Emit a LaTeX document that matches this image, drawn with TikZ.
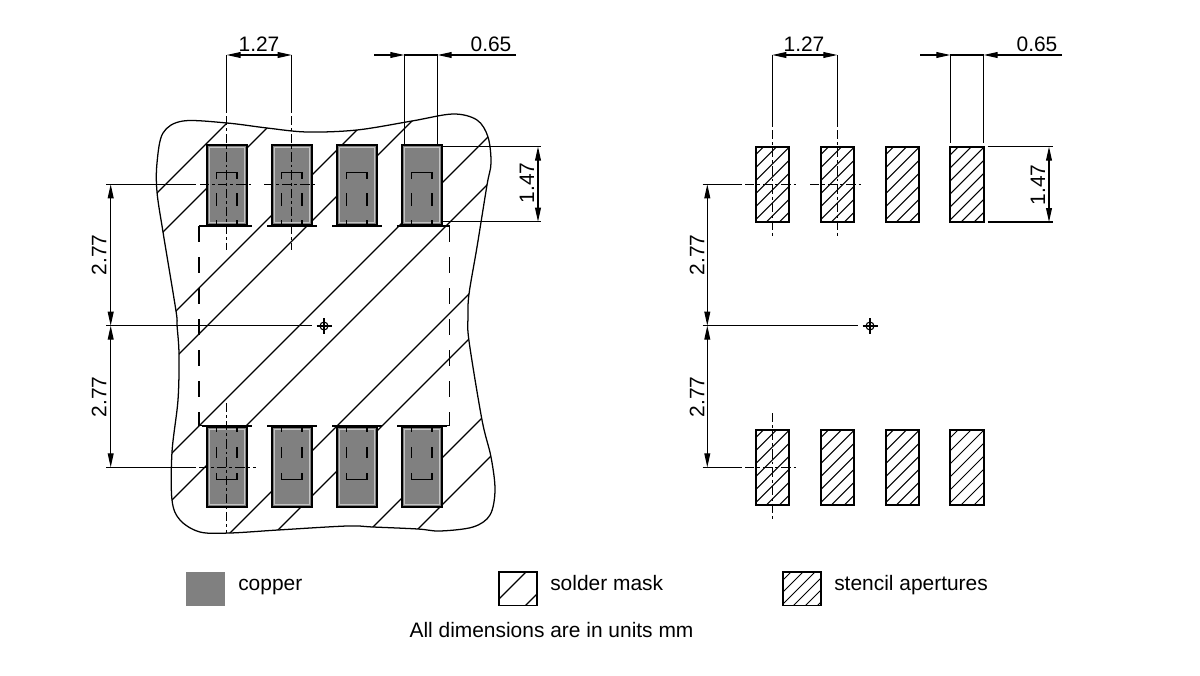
\documentclass[tikz,border=0pt]{standalone}
\usepackage{fontspec}
\setmainfont{Liberation Sans}
\usetikzlibrary{arrows.meta}
\definecolor{padgray}{HTML}{808080}
\definecolor{padedge}{HTML}{C4C4C4}
\tikzset {
  thin line/.style = {
    draw = black,
    line width = 0.8pt
  },
  % dimension line with long narrow tips
  dim arrow/.style = {
    thin line,
    -{Stealth[length = 10.5pt, width = 4.4pt, inset = 0pt]}
  },
  dim both/.style = {
    thin line,
    {Stealth[length = 10.5pt, width = 4.4pt, inset = 0pt]}-{Stealth[length = 10.5pt, width = 4.4pt, inset = 0pt]}
  },
  dim text/.style = {
    font = \fontsize{15.7}{18}\selectfont,
    inner sep = 0
  },
  % centre line of a pad
  centre line/.style = {
    thin line,
    dash pattern = on 7pt off 2.2pt on 2.2pt off 2.2pt
  },
  hatch line/.style = {
    draw = black,
    line width = 0.85pt
  },
  copper pad/.style = {
    fill = padgray,
    draw = black,
    line width = 1.5pt
  },
  stencil pad/.style = {
    draw = black,
    line width = 1.6pt
  },
  pad mark/.style = {
    draw = black,
    line width = 1.05pt
  }
}
\begin{document}
\begin{tikzpicture}[x = 0.75pt, y = -0.75pt]
  \useasboundingbox (0,0) rectangle (1200,675);

  % solder mask outline and its hatching
  \begin{scope}
    \clip plot[smooth cycle, tension = 0.55] coordinates {
      (157,163) (163,133) (183,121) (227,123) (267,128) (307,132) (357,130)
      (412,121) (453,114) (477,120) (488,137) (491,163) (487,185) (477,247)
      (469,294) (468,317) (469,341) (482,420) (491,457) (495,490) (490,515)
      (473,527) (440,531) (418,529) (373,527) (347,526) (278,530) (230,533)
      (200,532) (180,520) (172,500) (172,452) (178,400) (179,354) (177,325)
      (176,311) (163,232) (157,192)};
    \foreach \c in {350,395,487,533,625,672,763,808,900,947}
      \draw[hatch line] (\c-100,100) -- (\c-600,600);
  \end{scope}
  \draw[thin line, line width = 0.95pt] plot[smooth cycle, tension = 0.55] coordinates {
    (157,163) (163,133) (183,121) (227,123) (267,128) (307,132) (357,130)
    (412,121) (453,114) (477,120) (488,137) (491,163) (487,185) (477,247)
    (469,294) (468,317) (469,341) (482,420) (491,457) (495,490) (490,515)
    (473,527) (440,531) (418,529) (373,527) (347,526) (278,530) (230,533)
    (200,532) (180,520) (172,500) (172,452) (178,400) (179,354) (177,325)
    (176,311) (163,232) (157,192)};

  % package outline under the pads
  \draw[thin line, dash pattern = on 12pt off 11.25pt] (199,226) -- (199,425.7);
  \draw[thin line, dash pattern = on 12pt off 11.25pt] (449.7,226) -- (449.7,425.7);
  \draw[thin line] (199,226) -- (207,226);
  \draw[thin line] (441,226) -- (449.7,226);
  \draw[thin line] (199,425.7) -- (207,425.7);
  \draw[thin line] (441,425.7) -- (449.7,425.7);

  % copper pads, top and bottom row
  \foreach \px in {207,272,337,402} {
    \draw[copper pad] (\px,145) rectangle (\px+39.5,225);
    \draw[padedge, line width = 0.8pt] (\px+2.2,147.2) rectangle (\px+37.3,222.8);
    \draw[pad mark] (\px+9.5,179) -- (\px+9.5,172.7) -- (\px+30,172.7) -- (\px+30,179);
    \draw[pad mark] (\px+9.5,193) -- (\px+9.5,206);
    \draw[pad mark] (\px+30,193) -- (\px+30,206);
    \draw[pad mark] (\px+9.5,220) -- (\px+9.5,225);
    \draw[pad mark] (\px+30,220) -- (\px+30,225);
    \draw[thin line] (\px-5,226) -- (\px+45,226);
    \draw[line width = 1.6pt] (\px,225.5) -- (\px+10,225.5);
    \draw[line width = 1.6pt] (\px+30,225.5) -- (\px+40,225.5);

    \draw[copper pad] (\px,427) rectangle (\px+39.5,507);
    \draw[padedge, line width = 0.8pt] (\px+2.2,429.2) rectangle (\px+37.3,504.8);
    \draw[pad mark] (\px+9.5,473) -- (\px+9.5,479.3) -- (\px+30,479.3) -- (\px+30,473);
    \draw[pad mark] (\px+9.5,447) -- (\px+9.5,458);
    \draw[pad mark] (\px+30,447) -- (\px+30,458);
    \draw[pad mark] (\px+9.5,427) -- (\px+9.5,432);
    \draw[pad mark] (\px+30,427) -- (\px+30,432);
    \draw[thin line] (\px-5,426) -- (\px+45,426);
    \draw[line width = 1.6pt] (\px,426.5) -- (\px+10,426.5);
    \draw[line width = 1.6pt] (\px+30,426.5) -- (\px+40,426.5);
  }

  % stencil pads with their hatching
  \foreach \px in {755.7,820.7,885.7,950.4} {
    \foreach \py in {146.7,429.6} {
      \begin{scope}
        \clip (\px,\py) rectangle (\px+33.6,\py+75.6);
        \foreach \c in {8,21,...,108}
          \draw[hatch line, line width = 0.75pt] (\px+\c+10,\py-10) -- (\px+\c-90,\py+90);
      \end{scope}
      \draw[stencil pad] (\px,\py) rectangle (\px+33.6,\py+75.6);
    }
  }

  % centre lines, left view
  \draw[thin line] (226.7,55) -- (226.7,113);
  \draw[centre line] (226.7,116) -- (226.7,250);
  \draw[centre line] (226.7,403) -- (226.7,533);
  \draw[thin line] (291.7,55) -- (291.7,113);
  \draw[centre line] (291.7,116) -- (291.7,250);
  \draw[thin line] (106,184.3) -- (196,184.3);
  \draw[centre line] (200,184.3) -- (253,184.3);
  \draw[centre line] (264,184.3) -- (318,184.3);
  \draw[thin line] (106,467.3) -- (196,467.3);
  \draw[centre line] (199,467.3) -- (256,467.3);

  % centre lines, right view
  \draw[thin line] (772.3,55) -- (772.3,127);
  \draw[centre line] (772.3,130) -- (772.3,237);
  \draw[centre line] (772.3,413) -- (772.3,520);
  \draw[thin line] (837.3,55) -- (837.3,127);
  \draw[centre line] (837.3,130) -- (837.3,237);
  \draw[thin line] (702.7,184.3) -- (741.7,184.3);
  \draw[centre line] (745,184.3) -- (798,184.3);
  \draw[centre line] (810,184.3) -- (864,184.3);
  \draw[thin line] (702.7,467.3) -- (741.7,467.3);
  \draw[centre line] (745,467.3) -- (799,467.3);

  % pad width lines
  \draw[thin line] (404.3,55) -- (404.3,145);
  \draw[thin line] (437.7,55) -- (437.7,145);
  \draw[thin line] (950.3,55) -- (950.3,143);
  \draw[thin line] (983.7,55) -- (983.7,143);

  % height lines
  \draw[thin line] (441,146.7) -- (541,146.7);
  \draw[thin line] (443,221.7) -- (541,221.7);
  \draw[thin line] (987.7,146.7) -- (1053,146.7);
  \draw[thin line] (987.7,222) -- (1053,222);

  % origin lines and marks
  \foreach \ox/\ex/\cx in {106/312/324,702.7/858/870} {
    \draw[line width = 1.15pt] (\ox,325.7) -- (\ex,325.7);
    \draw[thin line] (\cx,326) circle (4);
    \draw[thin line] (\cx-7.5,326) -- (\cx+7.5,326);
    \draw[thin line] (\cx,318) -- (\cx,334);
  }

  % dimension arrows, left view
  \coordinate (pitchl) at (226.7,55);
  \coordinate (pitchr) at (291.7,55);
  \coordinate (widthl) at (404.3,55);
  \coordinate (widthr) at (437.7,55);
  \coordinate (heightt) at (538,146.7);
  \coordinate (heightb) at (538,221.7);
  \coordinate (gapt) at (110.7,184.3);
  \coordinate (gapm) at (110.7,325.7);
  \coordinate (gapb) at (110.7,467.3);
  \draw[dim both] (pitchl) -- (pitchr);
  \draw[thin line] (widthl) -- (widthr);
  \draw[dim arrow] (374.3,55) -- (widthl);
  \draw[dim arrow] (516,55) -- (widthr);
  \draw[dim both] (heightt) -- (heightb);
  \draw[dim both] (gapt) -- (gapm);
  \draw[dim both] (gapm) -- (gapb);

  % dimension arrows, right view
  \coordinate (spitchl) at (772.3,55);
  \coordinate (spitchr) at (837.3,55);
  \coordinate (swidthl) at (950.3,55);
  \coordinate (swidthr) at (983.7,55);
  \coordinate (sheightt) at (1049,146.7);
  \coordinate (sheightb) at (1049,222);
  \coordinate (sgapt) at (707.3,184.3);
  \coordinate (sgapm) at (707.3,325.7);
  \coordinate (sgapb) at (707.3,467.3);
  \draw[dim both] (spitchl) -- (spitchr);
  \draw[thin line] (swidthl) -- (swidthr);
  \draw[dim arrow] (920,55) -- (swidthl);
  \draw[dim arrow] (1062,55) -- (swidthr);
  \draw[dim both] (sheightt) -- (sheightb);
  \draw[dim both] (sgapt) -- (sgapm);
  \draw[dim both] (sgapm) -- (sgapb);

  % dimension values
  \node[dim text] (pitchtext) at (259,44.5) {1.27};
  \node[dim text] (widthtext) at (491,44.5) {0.65};
  \node[dim text, rotate = 90] (heighttext) at (527,183) {1.47};
  \node[dim text, rotate = 90] (gaptext) at (99,255) {2.77};
  \node[dim text, rotate = 90] (gapbtext) at (99,397) {2.77};
  \node[dim text] (spitchtext) at (804,44.5) {1.27};
  \node[dim text] (swidthtext) at (1037,44.5) {0.65};
  \node[dim text, rotate = 90] (sheighttext) at (1038,185) {1.47};
  \node[dim text, rotate = 90] (sgaptext) at (697,255) {2.77};
  \node[dim text, rotate = 90] (sgapbtext) at (697,397) {2.77};

  % legend
  \fill[padgray] (186,572) rectangle (224.5,605.5);
  \begin{scope}
    \clip (499,572) rectangle (537,605.5);
    \draw[hatch line] (526,572) -- (499,599);
    \draw[hatch line] (537,594) -- (525,606);
  \end{scope}
  \draw[thin line] (499,572) rectangle (537,605.5);
  \begin{scope}
    \clip (783,572) rectangle (821,605.5);
    \foreach \c in {8,20,...,70}
      \draw[hatch line, line width = 0.75pt] (783+\c+5,567) -- (783+\c-45,617);
  \end{scope}
  \draw[thin line] (783,572) rectangle (821,605.5);
  \node[dim text, anchor = base west] (coppertext) at (238,590.5) {copper};
  \node[dim text, anchor = base west] (masktext) at (550,590.5) {solder mask};
  \node[dim text, anchor = base west] (stenciltext) at (834,590.5) {stencil apertures};
  \node[dim text, anchor = base] (unitstext) at (551.5,637.5) {All dimensions are in units mm};
\end{tikzpicture}
\end{document}
